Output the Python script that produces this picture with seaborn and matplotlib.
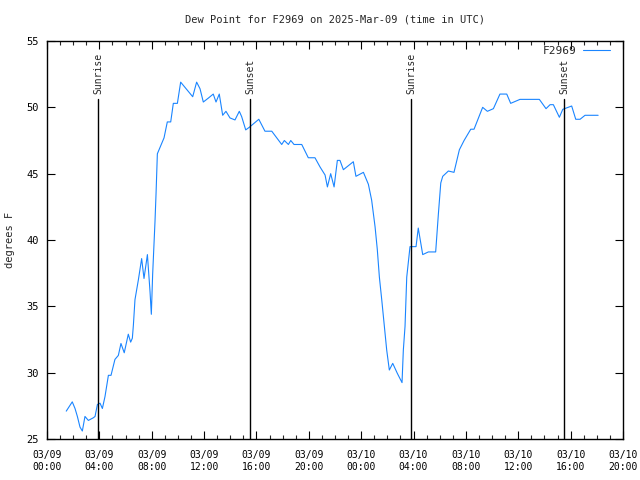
import datetime as dt
import matplotlib
matplotlib.use("Agg")
import matplotlib.pyplot as plt
import matplotlib.dates as mdates
import seaborn as sns
import pandas as pd

base = dt.datetime(2025, 3, 9, 0, 0)

hours = [1.47, 1.93, 2.14, 2.32, 2.52, 2.70, 2.90, 3.16, 3.54, 3.67, 3.85, 4.05, 4.23,
         4.43, 4.69, 4.89, 5.19, 5.45, 5.65, 5.90, 6.21, 6.39, 6.52, 6.60, 6.72, 6.98,
         7.23, 7.41, 7.67, 7.87, 7.97, 8.07, 8.25, 8.33, 8.43, 8.94, 9.19, 9.45, 9.65,
         9.96, 10.21, 11.13, 11.43, 11.69, 11.94, 12.33, 12.70, 12.91, 13.16, 13.42,
         13.67, 13.98, 14.36, 14.69, 14.87, 15.18, 15.46, 16.18, 16.65, 17.17, 17.93,
         18.13, 18.44, 18.62, 18.87, 19.46, 19.96, 20.47, 20.86, 21.24, 21.42, 21.67,
         21.93, 22.18, 22.38, 22.64, 23.40, 23.60, 24.17, 24.55, 24.80, 25.06, 25.23,
         25.39, 25.57, 25.77, 25.95, 26.15, 26.41, 26.76, 27.12, 27.22, 27.35, 27.48,
         27.73, 28.19, 28.36, 28.70, 29.13, 29.69, 29.90, 30.08, 30.23, 30.66, 31.09,
         31.50, 31.86, 32.37, 32.62, 33.28, 33.64, 34.10, 34.60, 35.12, 35.42, 36.13,
         37.61, 38.12, 38.43, 38.68, 39.14, 39.40, 40.08, 40.39, 40.72, 41.10, 42.10]

dewpoint = [27.1, 27.8, 27.3, 26.7, 25.9, 25.6, 26.7, 26.4, 26.6, 26.7, 27.6, 27.7, 27.3,
            28.2, 29.8, 29.8, 31.0, 31.3, 32.2, 31.5, 32.9, 32.3, 32.6, 33.6, 35.5, 37.0,
            38.6, 37.1, 38.9, 36.1, 34.4, 37.4, 41.4, 43.5, 46.5, 47.7, 48.9, 48.9, 50.3,
            50.3, 51.9, 50.8, 51.9, 51.4, 50.4, 50.7, 51.0, 50.4, 51.0, 49.4,
            49.7, 49.2, 49.05, 49.7, 49.3, 48.3, 48.5, 49.1, 48.2, 48.2, 47.2,
            47.5, 47.2, 47.5, 47.2, 47.2, 46.2, 46.2, 45.5, 44.9, 44.0, 45.0,
            44.0, 46.0, 46.0, 45.3, 45.9, 44.8, 45.1, 44.2, 43.0, 41.0, 39.3,
            37.2, 35.5, 33.5, 31.7, 30.2, 30.7, 29.95, 29.25, 31.7, 33.5, 37.2,
            39.5, 39.5, 40.9, 38.9, 39.1, 39.1, 42.0, 44.3, 44.8, 45.2, 45.1,
            46.8, 47.5, 48.35, 48.35, 50.0, 49.7, 49.9, 51.0, 51.0, 50.3, 50.6,
            50.6, 49.9, 50.2, 50.2, 49.25, 49.85, 50.1, 49.1, 49.1, 49.4, 49.4]

sun_labels = ["Sunrise", "Sunset", "Sunrise", "Sunset"]
sun_hours = [3.9, 15.5, 27.8, 39.5]

station = "F2969"
title = "Dew Point for F2969 on 2025-Mar-09 (time in UTC)"
ylabel = "degrees F"

df = pd.DataFrame({
    "time": [base + dt.timedelta(hours=h) for h in hours],
    "dewpoint": dewpoint,
})

sns.set_style("ticks")
plt.rcParams["font.family"] = ["DejaVu Sans Mono"]

fig = plt.figure(figsize=(6.4, 4.8), dpi=100)
ax = fig.add_axes([47/640, 1-439/480, (623-47)/640, (439-41)/480])

sns.lineplot(data=df, x="time", y="dewpoint", ax=ax, color="#1a85ff",
             linewidth=0.8, label=station)

for lab, h in zip(sun_labels, sun_hours):
    t = base + dt.timedelta(hours=h)
    ax.plot([t, t], [25, 50.6], color="black", linewidth=1.0)
    ax.text(t, 51.0, lab, rotation=90, ha="center", va="bottom", fontsize=7)

ax.set_xlim(base, base + dt.timedelta(hours=44))
ax.set_ylim(25, 55)
ax.set_yticks([25, 30, 35, 40, 45, 50, 55])
ax.xaxis.set_major_locator(mdates.HourLocator(byhour=range(0, 24, 4)))
ax.xaxis.set_minor_locator(mdates.HourLocator())
ax.xaxis.set_major_formatter(mdates.DateFormatter("%m/%d\n%H:%M"))

ax.tick_params(axis="both", which="major", direction="in", length=6, width=0.8,
               top=True, right=True, labelsize=7, pad=8, colors="black")
ax.tick_params(axis="y", which="major", labelsize=7.5, pad=6)
ax.tick_params(axis="x", which="minor", direction="in", length=3, width=0.8,
               top=True, bottom=True)
for s in ax.spines.values():
    s.set_linewidth(1.0)
    s.set_color("black")

ax.set_xlabel("")
ax.set_ylabel(ylabel, fontsize=7.5, labelpad=8)
ax.set_title(title, fontsize=7.5, pad=13)

leg = ax.legend(loc="upper right", frameon=False, fontsize=8, handlelength=2.4,
                markerfirst=False, borderaxespad=0.0, handletextpad=0.6,
                bbox_to_anchor=(0.985, 0.999))

fig.savefig("out.png", dpi=100)
